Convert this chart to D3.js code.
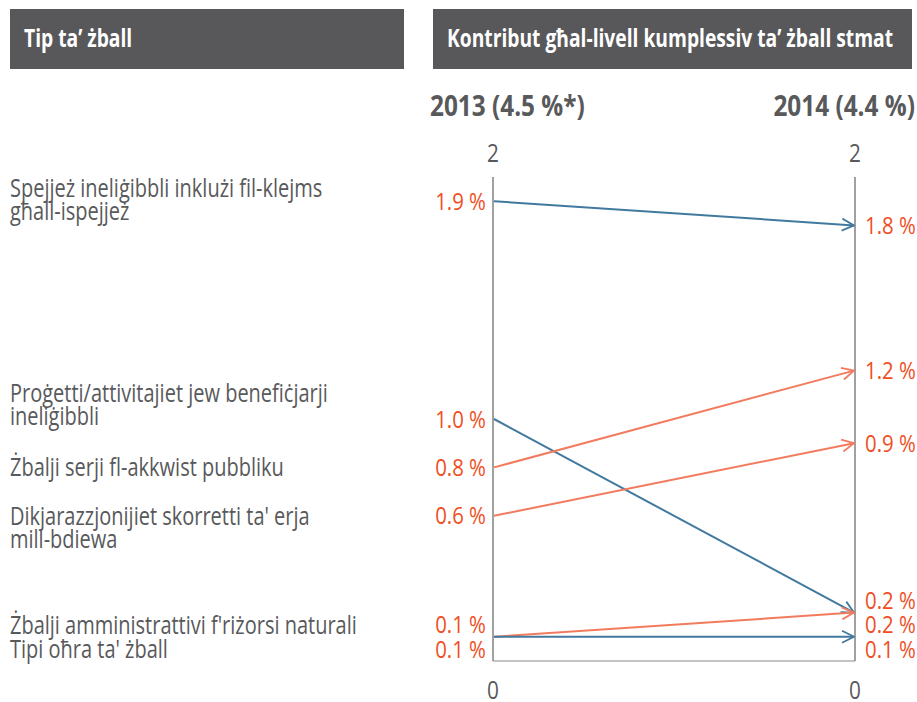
<!DOCTYPE html>
<html>
<head>
<meta charset="utf-8">
<script src="https://cdn.jsdelivr.net/npm/d3@7"></script>
<style>
  body { margin: 0; background: #fff; }
  svg text { font-family: "Open Sans", "Noto Sans", sans-serif; }
</style>
</head>
<body>
<svg id="chart" width="917" height="702"></svg>
<script>
// data
const categories = [
  "Spejjeż ineliġibbli inklużi fil-klejms\ngħall-ispejjeż",
  "Proġetti/attivitajiet jew benefiċjarji\nineliġibbli",
  "Żbalji serji fl-akkwist pubbliku",
  "Dikjarazzjonijiet skorretti ta' erja\nmill-bdiewa",
  "Żbalji amministrattivi f'riżorsi naturali",
  "Tipi oħra ta' żball"
];
const values2013 = [1.9, 1.0, 0.8, 0.6, 0.1, 0.1];
const values2014 = [1.8, 0.2, 1.2, 0.9, 0.2, 0.1];
const seriesType = ["blue", "blue", "orange", "orange", "orange", "blue"];
const years = ["2013", "2014"];
const yearLabels = ["2013 (4.5 %*)", "2014 (4.4 %)"];
const axisTicks = [0, 2];
const headers = ["Tip ta’ żball", "Kontribut għal-livell kumplessiv ta’ żball stmat"];

// layout
const colors = { blue: "#41799f", orange: "#f27b5e" };
const valueColor = "#f04e23";
const textColor = "#58595b";
const catShift = [-13, -26, 0, 0, 0, 0]; // nudges for the category text

const svg = d3.select("#chart");

const x = d3.scalePoint().domain(years).range([493, 855]);
const y = d3.scaleLinear().domain([0, 2]).range([661, 177]);

// fake a condensed face: squeeze text horizontally around its x
function squeeze(sel, k) {
  sel.attr("transform", function() {
    const x0 = +this.getAttribute("x");
    return `translate(${x0},0) scale(${k},1) translate(${-x0},0)`;
  });
}

// header bars
const bars = [{x0: 10, x1: 404, tx: 24}, {x0: 433, x1: 912, tx: 447}];
svg.selectAll("rect.hdr")
  .data(bars)
  .join("rect")
  .attr("x", d => d.x0).attr("y", 9)
  .attr("width", d => d.x1 - d.x0).attr("height", 60)
  .attr("fill", "#58585a");
svg.selectAll("text.hdr")
  .data(bars)
  .join("text")
  .attr("x", d => d.tx).attr("y", 47)
  .attr("fill", "#fff")
  .attr("font-size", 25).attr("font-weight", "bold")
  .text((d, i) => headers[i])
  .call(squeeze, 0.77);

// year titles
svg.selectAll("text.year")
  .data(years)
  .join("text")
  .attr("x", (d, i) => i === 0 ? 430 : 915)
  .attr("y", 116)
  .attr("text-anchor", (d, i) => i === 0 ? "start" : "end")
  .attr("fill", textColor)
  .attr("font-size", 29).attr("font-weight", "bold")
  .text((d, i) => yearLabels[i])
  .call(squeeze, 0.84);

// axes
years.forEach(yr => {
  svg.append("line")
    .attr("x1", x(yr)).attr("x2", x(yr))
    .attr("y1", y(2)).attr("y2", y(0))
    .attr("stroke", "#8a8a8a").attr("stroke-width", 1.6);
  svg.selectAll(null)
    .data(axisTicks)
    .join("text")
    .attr("x", x(yr))
    .attr("y", d => d === 0 ? y(d) + 38 : y(d) - 15)
    .attr("text-anchor", "middle")
    .attr("fill", textColor)
    .attr("font-size", 26)
    .text(d => d)
    .call(squeeze, 0.8);
});
svg.append("line")
  .attr("x1", x("2013")).attr("x2", x("2014"))
  .attr("y1", y(0)).attr("y2", y(0))
  .attr("stroke", "#8a8a8a").attr("stroke-width", 1.2);

// arrow markers
const defs = svg.append("defs");
Object.entries(colors).forEach(([k, c]) => {
  defs.append("marker")
    .attr("id", "arrow-" + k)
    .attr("viewBox", "-1 -7 14 14")
    .attr("refX", 12).attr("refY", 0)
    .attr("markerWidth", 14).attr("markerHeight", 14)
    .attr("markerUnits", "userSpaceOnUse")
    .attr("orient", "auto")
    .append("path")
    .attr("d", "M0,-6L12,0L0,6")
    .attr("fill", "none")
    .attr("stroke", c)
    .attr("stroke-width", 1.8);
});

const rows = categories.map((c, i) => ({
  name: c, v0: values2013[i], v1: values2014[i], type: seriesType[i], i: i
}));

// slope lines
svg.selectAll("line.slope")
  .data(rows)
  .join("line")
  .attr("x1", x("2013") + 1).attr("y1", d => y(d.v0))
  .attr("x2", x("2014") - 1).attr("y2", d => y(d.v1))
  .attr("stroke", d => colors[d.type])
  .attr("stroke-width", 2)
  .attr("marker-end", d => `url(#arrow-${d.type})`);

// spread labels that would overlap, centring each clump on its range
function spread(items, gap) {
  items.sort((a, b) => a.want - b.want || a.tie - b.tie);
  let groups = items.map(d => ({ members: [d], lo: d.want, hi: d.want }));
  const centre = g => (g.lo + g.hi) / 2;
  let moved = true;
  while (moved) {
    moved = false;
    for (let k = 0; k < groups.length - 1; k++) {
      const a = groups[k], b = groups[k + 1];
      const aBottom = centre(a) + (a.members.length - 1) * gap / 2;
      const bTop = centre(b) - (b.members.length - 1) * gap / 2;
      if (bTop - aBottom < gap) {
        groups.splice(k, 2, { members: a.members.concat(b.members), lo: a.lo, hi: Math.max(a.hi, b.hi) });
        moved = true;
        break;
      }
    }
  }
  groups.forEach(g => {
    const top = centre(g) - (g.members.length - 1) * gap / 2;
    g.members.forEach((d, j) => d.pos = top + j * gap);
  });
  return items;
}

const leftLabels = spread(rows.map(d => ({ row: d, want: y(d.v0), tie: -d.v1 })), 24.5);
const rightLabels = spread(rows.map(d => ({ row: d, want: y(d.v1), tie: -d.v0 })), 24.5);

svg.selectAll("text.lval")
  .data(leftLabels)
  .join("text")
  .attr("x", x("2013") - 7)
  .attr("y", d => d.pos)
  .attr("dy", "0.36em")
  .attr("text-anchor", "end")
  .attr("fill", valueColor)
  .attr("font-size", 24)
  .text(d => d3.format(".1f")(d.row.v0) + " %")
  .call(squeeze, 0.85);

svg.selectAll("text.rval")
  .data(rightLabels)
  .join("text")
  .attr("x", x("2014") + 10)
  .attr("y", d => d.pos)
  .attr("dy", "0.36em")
  .attr("fill", valueColor)
  .attr("font-size", 24)
  .text(d => d3.format(".1f")(d.row.v1) + " %")
  .call(squeeze, 0.85);

// category names
svg.selectAll("text.cat")
  .data(leftLabels)
  .join("text")
  .attr("x", 10)
  .attr("y", d => d.pos + catShift[d.row.i])
  .attr("fill", textColor)
  .attr("font-size", 25)
  .each(function(d) {
    d3.select(this).selectAll("tspan")
      .data(d.row.name.split("\n"))
      .join("tspan")
      .attr("x", 10)
      .attr("dy", (t, j) => j === 0 ? "0.36em" : "23px")
      .text(t => t);
  })
  .call(squeeze, 0.8);
</script>
</body>
</html>
